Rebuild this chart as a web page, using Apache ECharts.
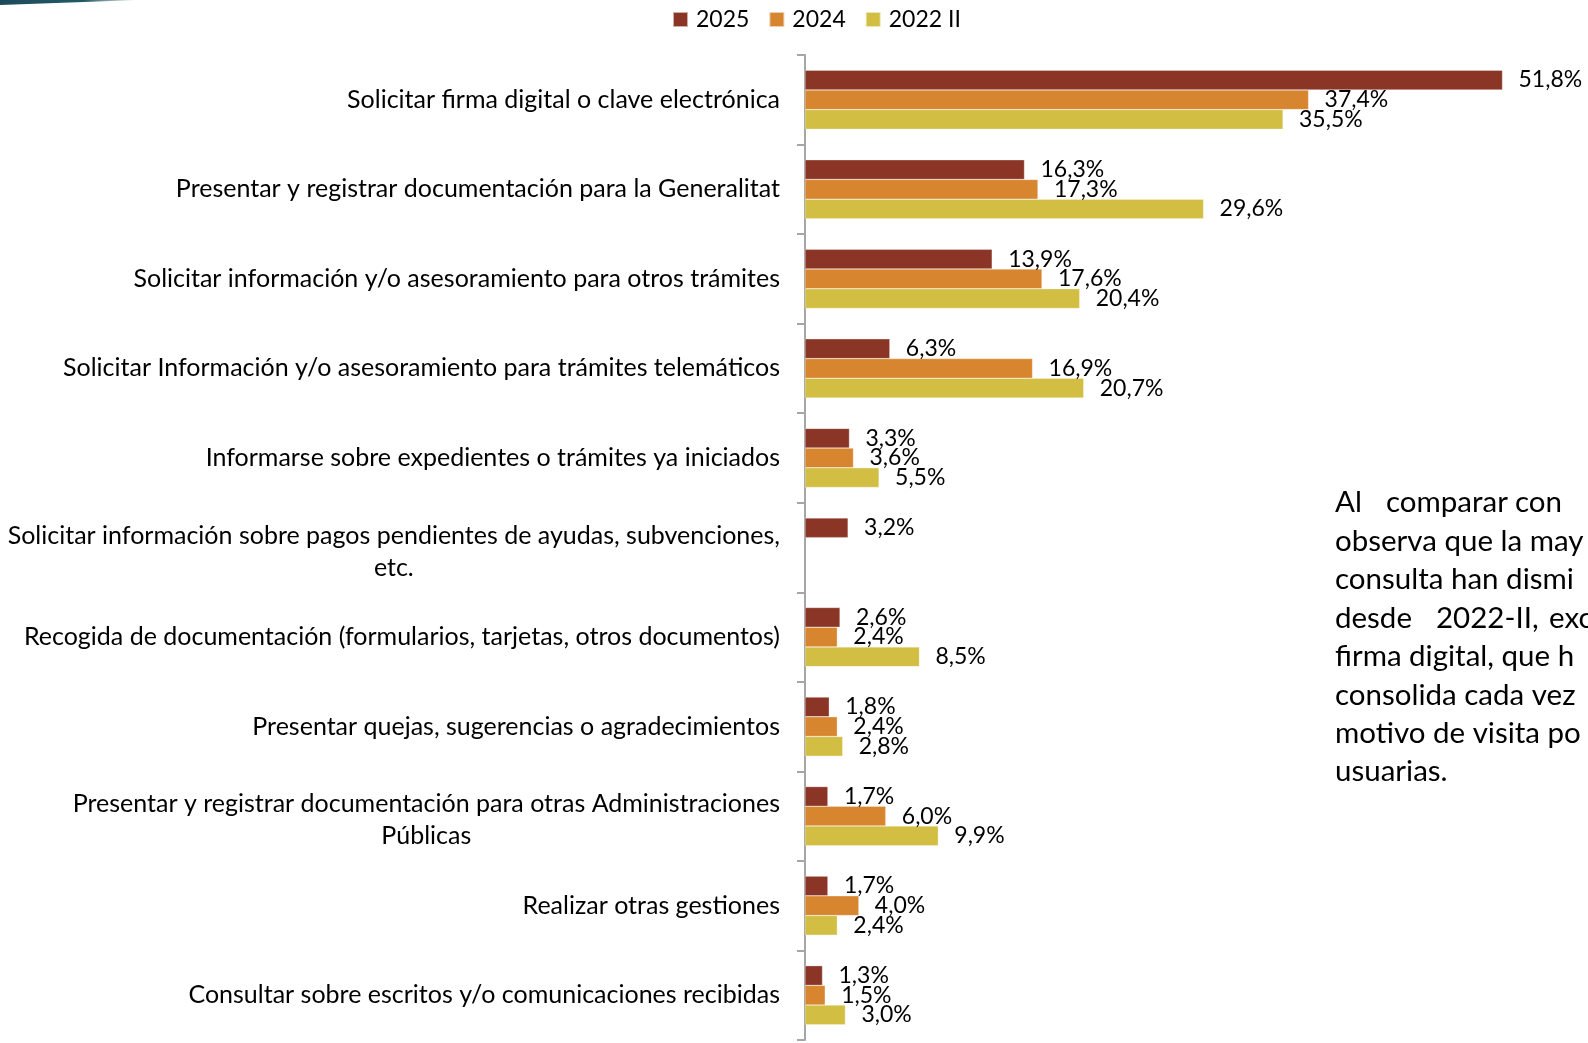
<!DOCTYPE html>
<html>
<head>
<meta charset="utf-8">
<script src="https://cdn.jsdelivr.net/npm/echarts@6/dist/echarts.min.js"></script>
<style>
html,body{margin:0;padding:0;background:#fff;}
#c{width:1588px;height:1043px;}
</style>
</head>
<body>
<div id="c"></div>
<script>
var categories = [
  'Solicitar firma digital o clave electrónica',
  'Presentar y registrar documentación para la Generalitat',
  'Solicitar información y/o asesoramiento para otros trámites',
  'Solicitar Información y/o asesoramiento para trámites telemáticos',
  'Informarse sobre expedientes o trámites ya iniciados',
  'Solicitar información sobre pagos pendientes de ayudas, subvenciones,\netc.',
  'Recogida de documentación (formularios, tarjetas, otros documentos)',
  'Presentar quejas, sugerencias o agradecimientos',
  'Presentar y registrar documentación para otras Administraciones\nPúblicas',
  'Realizar otras gestiones',
  'Consultar sobre escritos y/o comunicaciones recibidas'
];
var seriesNames = ['2025', '2024', '2022 II'];
var values2025 = [51.8, 16.3, 13.9, 6.3, 3.3, 3.2, 2.6, 1.8, 1.7, 1.7, 1.3];
var values2024 = [37.4, 17.3, 17.6, 16.9, 3.6, null, 2.4, 2.4, 6.0, 4.0, 1.5];
var values2022 = [35.5, 29.6, 20.4, 20.7, 5.5, null, 8.5, 2.8, 9.9, 2.4, 3.0];
var paragraphLines = [
  ['Al', 'comparar', 'con'],
  ['observa que la may'],
  ['consulta han dismi'],
  ['desde', '2022-II,', 'exc'],
  ['firma digital, que h'],
  ['consolida cada vez'],
  ['motivo de visita po'],
  ['usuarias.']
];

var colors = ['#8A3526', '#D8852F', '#D2BE42'];
var FONT = 'Lato';

function fmt(p) {
  if (p.value == null) return '';
  return p.value.toFixed(1).replace('.', ',') + '%';
}

function mkSeries(name, data, color) {
  return {
    name: name,
    type: 'bar',
    data: data,
    barWidth: 19.7,
    barGap: '0%',
    itemStyle: { color: color, borderColor: 'rgba(255,255,255,0.6)', borderWidth: 0.5 },
    label: {
      show: true,
      position: 'right',
      distance: 16,
      formatter: fmt,
      color: '#000',
      fontFamily: FONT,
      fontSize: 23
    }
  };
}

var categoryItems = categories.map(function (c) {
  if (c.indexOf('\n') >= 0) {
    return { value: c, textStyle: { padding: [8, 0, 0, 0] } };
  }
  return c;
});

// paragraph graphics
var paraGraphics = [];
var lineY = [502, 541, 579, 618, 656, 695, 733, 771];
var wordX = {0: [1335, 1386, 1515], 3: [1335, 1436, 1549]};
paragraphLines.forEach(function (words, i) {
  words.forEach(function (w, j) {
    paraGraphics.push({
      type: 'text',
      x: words.length > 1 ? wordX[i][j] : 1335,
      y: lineY[i],
      style: { text: w, fill: '#000', font: '29.5px ' + FONT, verticalAlign: 'middle' }
    });
  });
});

var chart = echarts.init(document.getElementById('c'), null, { renderer: 'canvas' });
chart.setOption({
  animation: false,
  backgroundColor: '#fff',
  color: colors,
  legend: {
    data: seriesNames,
    left: 672,
    top: 8,
    padding: 0,
    itemWidth: 15,
    itemHeight: 15,
    itemGap: 19,
    icon: 'rect',
    textStyle: { fontFamily: FONT, fontSize: 23, color: '#000', padding: [0, 0, 0, 3] }
  },
  grid: { left: 805, right: 2, top: 55, bottom: 3, containLabel: false },
  xAxis: {
    type: 'value', min: 0, max: 58,
    show: false,
    splitLine: { show: false }
  },
  yAxis: {
    type: 'category',
    data: categoryItems,
    inverse: true,
    axisLine: { show: true, lineStyle: { color: '#A6A6A6', width: 2 } },
    axisTick: { show: true, length: 8, lineStyle: { color: '#A6A6A6', width: 2 } },
    axisLabel: {
      margin: 25,
      color: '#000',
      fontFamily: FONT,
      fontSize: 25,
      lineHeight: 32,
      formatter: function (v) {
        return v.split('\n').map(function (l) { return '{c|' + l + '}'; }).join('\n');
      },
      rich: { c: { align: 'center', fontFamily: FONT, fontSize: 25, lineHeight: 32, color: '#000' } }
    }
  },
  series: [
    mkSeries(seriesNames[0], values2025, colors[0]),
    mkSeries(seriesNames[1], values2024, colors[1]),
    mkSeries(seriesNames[2], values2022, colors[2])
  ],
  graphic: [
    {
      type: 'polygon',
      shape: { points: [[0, 0], [140, 0], [0, 5]] },
      style: {
        fill: new echarts.graphic.LinearGradient(0, 0, 1, 0, [
          { offset: 0, color: '#1B4B5B' },
          { offset: 0.6, color: '#245866' },
          { offset: 1, color: '#ffffff' }
        ])
      }
    }
  ].concat(paraGraphics)
});
</script>
</body>
</html>
